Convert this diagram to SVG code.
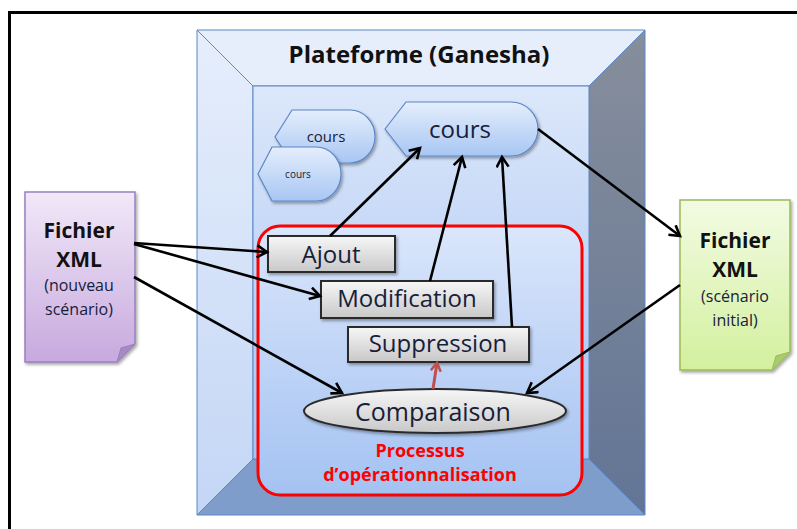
<svg xmlns="http://www.w3.org/2000/svg" width="797" height="529" viewBox="0 0 797 529">
<defs>
<linearGradient id="gFace" x1="0" y1="0" x2="0" y2="1"><stop offset="0" stop-color="#dce7fa"/><stop offset="1" stop-color="#a6c4f3"/></linearGradient>
<linearGradient id="gLeft" x1="0" y1="0" x2="0" y2="1"><stop offset="0" stop-color="#e6eefc"/><stop offset="1" stop-color="#c3d6f5"/></linearGradient>
<linearGradient id="gRight" x1="0" y1="0" x2="0" y2="1"><stop offset="0" stop-color="#878e9c"/><stop offset="1" stop-color="#627595"/></linearGradient>
<linearGradient id="gRed" x1="0" y1="0" x2="0" y2="1"><stop offset="0" stop-color="#dae6fb"/><stop offset="1" stop-color="#a4c2f2"/></linearGradient>
<linearGradient id="gCours" x1="0" y1="0" x2="0" y2="1"><stop offset="0" stop-color="#e4eefc"/><stop offset="1" stop-color="#a8c6f3"/></linearGradient>
<linearGradient id="gBox" x1="0" y1="0" x2="0" y2="1"><stop offset="0" stop-color="#f7f7f7"/><stop offset="1" stop-color="#c8c8c8"/></linearGradient>
<linearGradient id="gPurple" x1="0" y1="0" x2="0" y2="1"><stop offset="0" stop-color="#f1e8f8"/><stop offset="1" stop-color="#c7a9de"/></linearGradient>
<linearGradient id="gGreen" x1="0" y1="0" x2="0" y2="1"><stop offset="0" stop-color="#f2fbe3"/><stop offset="1" stop-color="#d3f09e"/></linearGradient>
<filter id="sh" x="-10%" y="-10%" width="130%" height="140%"><feDropShadow dx="1.5" dy="2" stdDeviation="1.5" flood-color="#000" flood-opacity="0.35"/></filter>
<marker id="arr" markerUnits="userSpaceOnUse" markerWidth="16" markerHeight="16" refX="12" refY="7" orient="auto"><path d="M2,1 L12,7 L2,13" fill="none" stroke="#000" stroke-width="2.6"/></marker>
<marker id="arrR" markerUnits="userSpaceOnUse" markerWidth="14" markerHeight="14" refX="10" refY="6" orient="auto"><path d="M2,1 L10,6 L2,11" fill="none" stroke="#c0504d" stroke-width="2.6"/></marker>
<style>
.lbl{font-family:"Open Sans","Liberation Sans",sans-serif;fill:#17203a;text-anchor:middle}
.b{font-weight:bold;fill:#111}
.cn{fill:none;stroke:#000;stroke-width:2.6;marker-end:url(#arr)}
.box{fill:url(#gBox);stroke:#2b2b2b;stroke-width:2;filter:url(#sh)}
.cours{fill:url(#gCours);stroke:#5b87c5;stroke-width:1.2;filter:url(#sh)}
.bev{stroke:#5b87c5;stroke-width:1}
</style>
</defs>
<rect x="0" y="0" width="797" height="529" fill="#fff"/>
<rect x="9.5" y="12.5" width="800" height="530" fill="none" stroke="#000" stroke-width="3"/>

<g id="plateforme">
<polygon class="bev" points="197,30 645,30 589,86 253,86" fill="#e6eefb"/>
<polygon class="bev" points="197,30 253,86 253,459 197,515" fill="url(#gLeft)"/>
<polygon class="bev" points="645,30 645,515 589,459 589,86" fill="url(#gRight)"/>
<polygon class="bev" points="197,515 253,459 589,459 645,515" fill="#7e9dcb"/>
<rect class="bev" x="253" y="86" width="336" height="373" fill="url(#gFace)"/>
<text class="lbl b" x="419" y="63" font-size="24">Plateforme (Ganesha)</text>
</g>

<g id="processus">
<rect x="258" y="226" width="324" height="269" rx="22" fill="url(#gRed)" stroke="#ff0000" stroke-width="3"/>
<text class="lbl" x="420" y="457" font-size="18" font-weight="bold" style="fill:#ff0000">Processus</text>
<text class="lbl" x="420" y="481" font-size="18" font-weight="bold" style="fill:#ff0000">d’opérationnalisation</text>
</g>

<g id="cours1">
<path class="cours" d="M275,137 L292,110 H350 A25,26.5 0 0 1 350,163 H292 Z"/>
<text class="lbl" x="326" y="142" font-size="15">cours</text>
</g>
<g id="cours2">
<path class="cours" d="M258,174 L272,147 H316 A25,27 0 0 1 316,201 H272 Z"/>
<text class="lbl" x="298" y="178" font-size="10">cours</text>
</g>
<g id="cours">
<path class="cours" d="M385,129 L406,102 H511 A27,27 0 0 1 511,156 H406 Z"/>
<text class="lbl" x="460" y="138" font-size="24">cours</text>
</g>

<g id="fichier-nouveau">
<path d="M25,192 H135 V344 L117,362 H25 Z" fill="url(#gPurple)" stroke="#9b7fbf" stroke-width="1.5" filter="url(#sh)"/>
<path d="M117,362 L121,348 L135,344 Z" fill="#a58ac4" stroke="#9b7fbf" stroke-width="1"/>
<text class="lbl b" x="79" y="238" font-size="21">Fichier</text>
<text class="lbl b" x="79" y="267" font-size="21">XML</text>
<text class="lbl" x="79" y="291" font-size="16">(nouveau</text>
<text class="lbl" x="79" y="315" font-size="16">scénario)</text>
</g>

<g id="fichier-initial">
<path d="M680,200 H790 V352 L772,370 H680 Z" fill="url(#gGreen)" stroke="#9bbb59" stroke-width="1.5" filter="url(#sh)"/>
<path d="M772,370 L776,356 L790,352 Z" fill="#aacc6e" stroke="#9bbb59" stroke-width="1"/>
<text class="lbl b" x="735" y="248" font-size="21">Fichier</text>
<text class="lbl b" x="735" y="277" font-size="21">XML</text>
<text class="lbl" x="735" y="302" font-size="16">(scénario</text>
<text class="lbl" x="735" y="326" font-size="16">initial)</text>
</g>

<g id="ajout">
<rect class="box" x="268" y="236" width="127" height="36"/>
<text class="lbl" x="331" y="263" font-size="24">Ajout</text>
</g>
<g id="modification">
<rect class="box" x="321" y="281" width="172" height="37"/>
<text class="lbl" x="407" y="307" font-size="24">Modification</text>
</g>
<g id="suppression">
<rect class="box" x="348" y="327" width="181" height="35"/>
<text class="lbl" x="438" y="352" font-size="24">Suppression</text>
</g>
<g id="comparaison">
<ellipse cx="435" cy="411" rx="131" ry="22" fill="url(#gBox)" stroke="#2b2b2b" stroke-width="2" filter="url(#sh)"/>
<text class="lbl" x="433" y="421" font-size="25">Comparaison</text>
</g>

<g id="connectors">
<line class="cn" x1="134" y1="243" x2="267" y2="252"/>
<line class="cn" x1="134" y1="244" x2="320" y2="296"/>
<line class="cn" x1="134" y1="277" x2="342" y2="393"/>
<line class="cn" x1="330" y1="236" x2="420" y2="148"/>
<line class="cn" x1="430" y1="281" x2="462" y2="157"/>
<line class="cn" x1="512" y1="327" x2="502" y2="157"/>
<line class="cn" x1="538" y1="129" x2="680" y2="236"/>
<line class="cn" x1="680" y1="285" x2="527" y2="393"/>
<line x1="433" y1="389" x2="437" y2="363" fill="none" stroke="#c0504d" stroke-width="3" marker-end="url(#arrR)"/>
</g>
</svg>
